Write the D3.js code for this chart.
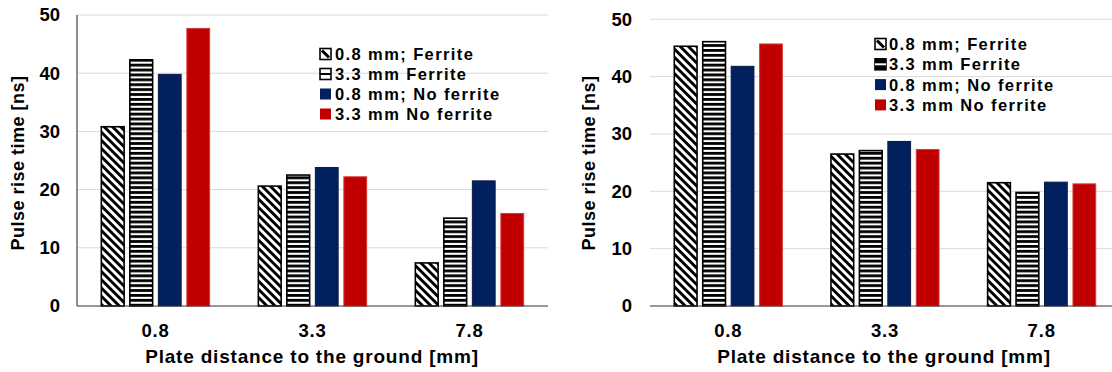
<!DOCTYPE html>
<html><head><meta charset="utf-8">
<script src="https://cdn.jsdelivr.net/npm/d3@7"></script>
<style>
body{margin:0;background:#fff}
svg{display:block}
text{font-family:"Liberation Sans",Arial,sans-serif;font-weight:bold;fill:#000}
</style>
</head><body><svg id="c" width="1112" height="372"></svg>
<script>
const categories = ["0.8", "3.3", "7.8"];
const seriesNames = ["0.8 mm; Ferrite", "3.3 mm Ferrite", "0.8 mm; No ferrite", "3.3 mm No ferrite"];
const leftValues = [
  [30.8, 20.6, 7.4],
  [42.3, 22.5, 15.1],
  [39.8, 23.8, 21.5],
  [47.7, 22.2, 15.9]
];
const rightValues = [
  [45.3, 26.5, 21.5],
  [46.1, 27.1, 19.8],
  [41.8, 28.7, 21.6],
  [45.7, 27.3, 21.3]
];
const yTicks = [0, 10, 20, 30, 40, 50];
const xTitle = "Plate distance to the ground [mm]";
const yTitle = "Pulse rise time [ns]";

const svg = d3.select("#c");
const defs = svg.append("defs");

const diag = defs.append("pattern").attr("id", "diag").attr("patternUnits", "userSpaceOnUse")
  .attr("width", 5.8).attr("height", 10).attr("patternTransform", "rotate(-45)");
diag.append("rect").attr("width", 5.8).attr("height", 10).attr("fill", "#fff");
diag.append("rect").attr("width", 2.9).attr("height", 10).attr("fill", "#000");

const horiz = defs.append("pattern").attr("id", "horiz").attr("patternUnits", "userSpaceOnUse")
  .attr("width", 10).attr("height", 4.9);
horiz.append("rect").attr("width", 10).attr("height", 4.9).attr("fill", "#fff");
horiz.append("rect").attr("width", 10).attr("height", 2.8).attr("fill", "#000");

const fills = ["url(#diag)", "url(#horiz)", "#002060", "#C00000"];
const strokes = ["#000", "#000", "#0d1a40", "#d83a3a"];
const strokeW = [1.6, 1.6, 1, 1];

function panel(cfg) {
  const g = svg.append("g");
  const x0 = d3.scaleBand().domain(categories).range(cfg.xr).paddingInner(0.31).paddingOuter(0.155);
  const x1 = d3.scaleBand().domain(d3.range(seriesNames.length)).range([0, x0.bandwidth()]).paddingInner(0.2).paddingOuter(0);
  const y = d3.scaleLinear().domain([0, 50]).range(cfg.yr);

  g.append("g").selectAll("line").data(yTicks.filter(t => t > 0)).join("line")
    .attr("x1", cfg.xr[0]).attr("x2", cfg.gridEnd)
    .attr("y1", d => y(d)).attr("y2", d => y(d))
    .attr("stroke", "#d9d9d9").attr("stroke-width", 1);

  cfg.values.forEach((vals, si) => {
    g.append("g").selectAll("rect").data(vals).join("rect")
      .attr("x", (d, i) => x0(categories[i]) + x1(si))
      .attr("width", x1.bandwidth())
      .attr("y", d => y(d))
      .attr("height", d => y(0) - y(d))
      .attr("fill", fills[si])
      .attr("stroke", strokes[si])
      .attr("stroke-width", strokeW[si]);
  });

  g.append("line").attr("x1", cfg.xr[0]).attr("x2", cfg.gridEnd)
    .attr("y1", y(0)).attr("y2", y(0)).attr("stroke", "#333").attr("stroke-width", 1.2);
  if (cfg.yLine) {
    g.append("line").attr("x1", cfg.xr[0]).attr("x2", cfg.xr[0])
      .attr("y1", y(0)).attr("y2", y(50)).attr("stroke", "#444").attr("stroke-width", 1.2);
  }

  const ya = g.append("g").attr("transform", `translate(${cfg.xr[0]},0)`)
    .call(d3.axisLeft(y).tickValues(yTicks).tickSize(0).tickPadding(cfg.yPad));
  ya.select(".domain").remove();
  ya.attr("font-family", null);
  ya.selectAll("text").attr("font-size", 18.5);

  const xa = g.append("g").attr("transform", `translate(0,${y(0)})`)
    .call(d3.axisBottom(x0).tickSize(0).tickPadding(18));
  xa.select(".domain").remove();
  xa.attr("font-family", null);
  xa.selectAll("text").attr("font-size", 18.5).style("letter-spacing", "0.8px");

  g.append("text").attr("x", cfg.xTitleX).attr("y", 363).attr("text-anchor", "middle")
    .attr("font-size", 19).style("letter-spacing", "0.8px").text(xTitle);
  g.append("text").attr("transform", `translate(${cfg.yTitleX},${cfg.yTitleY}) rotate(-90)`)
    .attr("text-anchor", "middle").attr("dy", "0.35em")
    .attr("font-size", 18).style("letter-spacing", "0.5px").text(yTitle);

  const lg = g.append("g");
  seriesNames.forEach((name, i) => {
    const cy = cfg.legY + i * cfg.legStep;
    const s = 11;
    if (i === 0) {
      lg.append("rect").attr("x", cfg.legX).attr("y", cy - s / 2).attr("width", s).attr("height", s)
        .attr("fill", "#fff").attr("stroke", "#000").attr("stroke-width", 1.6);
      lg.append("line").attr("x1", cfg.legX + 2).attr("y1", cy - s / 2 + 2)
        .attr("x2", cfg.legX + s - 2).attr("y2", cy + s / 2 - 2).attr("stroke", "#000").attr("stroke-width", 3);
    } else if (i === 1) {
      lg.append("rect").attr("x", cfg.legX).attr("y", cy - s / 2).attr("width", s).attr("height", s)
        .attr("fill", cfg.legBlack ? "#000" : "#fff").attr("stroke", "#000").attr("stroke-width", 1.6);
      lg.append("line").attr("x1", cfg.legX).attr("x2", cfg.legX + s).attr("y1", cy).attr("y2", cy)
        .attr("stroke", cfg.legBlack ? "#fff" : "#000").attr("stroke-width", 2);
    } else {
      lg.append("rect").attr("x", cfg.legX).attr("y", cy - s / 2).attr("width", s).attr("height", s)
        .attr("fill", fills[i]);
    }
    lg.append("text").attr("x", cfg.legTextX).attr("y", cy).attr("dy", "0.36em")
      .attr("font-size", 16.5).style("letter-spacing", "1.4px").text(name);
  });
}

panel({
  values: leftValues, xr: [77, 548], yr: [306, 15], gridEnd: 548, yLine: true, yPad: 17,
  xTitleX: 312, yTitleX: 18, yTitleY: 163,
  legX: 320, legTextX: 335, legY: 54, legStep: 20, legBlack: false
});
panel({
  values: rightValues, xr: [650, 1120], yr: [306, 19.3], gridEnd: 1112, yLine: false, yPad: 18,
  xTitleX: 884, yTitleX: 589, yTitleY: 163,
  legX: 875, legTextX: 889, legY: 44, legStep: 20.3, legBlack: true
});
</script>
</body></html>
